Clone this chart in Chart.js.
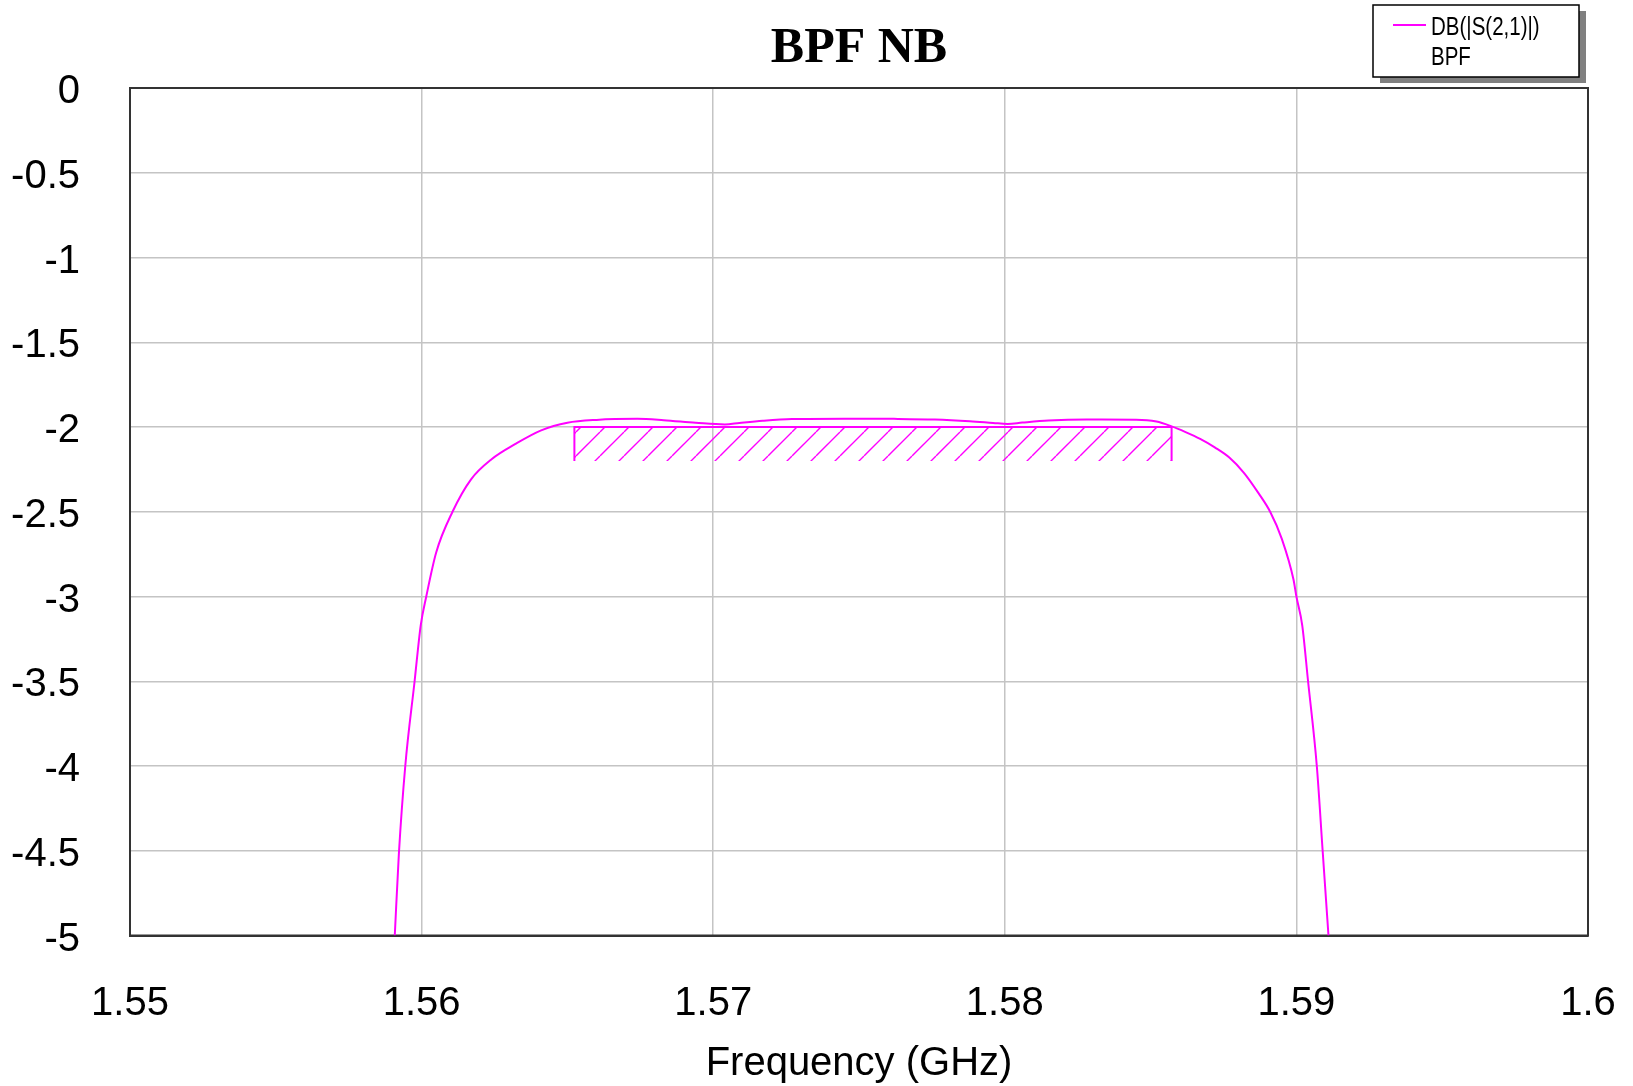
<!DOCTYPE html>
<html>
<head>
<meta charset="utf-8">
<title>BPF NB</title>
<script src="https://cdn.jsdelivr.net/npm/chart.js@4.4.1/dist/chart.umd.min.js"></script>
<style>
    html, body { margin: 0; padding: 0; background: #fff; }
    #wrap { width: 1633px; height: 1086px; }
</style>
</head>
<body>
<div id="wrap"><canvas id="bpfChart" width="1633" height="1086"></canvas></div>
<script>
// S21 sweep of the narrow-band filter (GHz, dB)
const freqGHz = [
    1.55908, 1.55922, 1.55944, 1.55976, 1.55997, 1.56016, 1.56050, 1.56106,
    1.56169, 1.56240, 1.56322, 1.56410, 1.56500, 1.5660, 1.5674, 1.5683,
    1.5694, 1.5704, 1.5709, 1.5717, 1.5727, 1.5745, 1.5762, 1.5776,
    1.5788, 1.5796, 1.5801, 1.5806, 1.5815, 1.5828, 1.5845, 1.5852,
    1.5857, 1.5862, 1.5867, 1.5872, 1.5877, 1.5882, 1.5887, 1.5891,
    1.5895, 1.5899, 1.5900, 1.5902, 1.5904, 1.5907, 1.5909, 1.5911
];
const s21dB = [
    -5.00, -4.52, -4.00, -3.50, -3.17, -3.00, -2.74, -2.50,
    -2.31, -2.19, -2.10, -2.02, -1.975, -1.958, -1.952, -1.960,
    -1.975, -1.985, -1.976, -1.963, -1.953, -1.951, -1.952, -1.956,
    -1.966, -1.976, -1.982, -1.974, -1.962, -1.956, -1.957, -1.968,
    -1.995, -2.03, -2.07, -2.12, -2.18, -2.27, -2.39, -2.50,
    -2.66, -2.90, -3.00, -3.17, -3.50, -4.00, -4.50, -5.00
];

// passband goal: S21 must stay above -2 dB between these frequencies
const goalFreq = [1.56524, 1.58572];
const goalTop = -2;
const goalBottom = -2.2;

const xTicks = [1.55, 1.56, 1.57, 1.58, 1.59, 1.6];
const yTicks = [0, -0.5, -1, -1.5, -2, -2.5, -3, -3.5, -4, -4.5, -5];

const MAGENTA = '#ff00ff';
const SANS = "'Liberation Sans', Arial, sans-serif";
const SERIF = "'Liberation Serif', 'Times New Roman', serif";

// diagonal hatch for the goal area
function makeHatch(step) {
    const c = document.createElement('canvas');
    c.width = step;
    c.height = step;
    const g = c.getContext('2d');
    g.strokeStyle = MAGENTA;
    g.lineWidth = 1.4;
    g.beginPath();
    g.moveTo(0, step); g.lineTo(step, 0);
    g.moveTo(-step, step); g.lineTo(0, 0);
    g.moveTo(step, step); g.lineTo(2 * step, 0);
    g.stroke();
    return g.createPattern(c, 'repeat');
}

// title centred over the plot area
const plotTitle = {
    id: 'plotTitle',
    afterDraw(chart) {
        const { ctx, chartArea: a } = chart;
        ctx.save();
        ctx.fillStyle = '#000';
        ctx.font = 'bold 50px ' + SERIF;
        ctx.textAlign = 'center';
        ctx.textBaseline = 'alphabetic';
        ctx.fillText('BPF NB', (a.left + a.right) / 2, 62);
        ctx.restore();
    }
};

// black frame round the plot area
const framePlugin = {
    id: 'frame',
    beforeDatasetsDraw(chart) {
        const { ctx, chartArea: a } = chart;
        ctx.save();
        ctx.strokeStyle = '#333';
        ctx.lineWidth = 2;
        ctx.strokeRect(a.left, a.top, a.right - a.left, a.bottom - a.top);
        ctx.restore();
    }
};

// legend box with drop shadow, top right
const legendBox = {
    id: 'legendBox',
    afterDraw(chart) {
        const { ctx, chartArea: a } = chart;
        const ds = chart.data.datasets[0];
        const w = 206, h = 72;
        const x = a.right - 9 - w, y = 5;
        ctx.save();
        ctx.fillStyle = '#808080';
        ctx.fillRect(x + 7, y + 6, w, h);
        ctx.fillStyle = '#fff';
        ctx.fillRect(x, y, w, h);
        ctx.strokeStyle = '#000';
        ctx.lineWidth = 1.5;
        ctx.strokeRect(x, y, w, h);
        ctx.strokeStyle = ds.borderColor;
        ctx.lineWidth = 2;
        ctx.beginPath();
        ctx.moveTo(x + 20, y + 20);
        ctx.lineTo(x + 53, y + 20);
        ctx.stroke();
        // narrow legend lettering
        ctx.fillStyle = '#000';
        ctx.font = '25px ' + SANS;
        ctx.textBaseline = 'alphabetic';
        ctx.translate(x + 58, 0);
        ctx.scale(0.82, 1);
        ctx.fillText(ds.label, 0, y + 30);
        ctx.fillText('BPF', 0, y + 60);
        ctx.restore();
    }
};

const ctx = document.getElementById('bpfChart').getContext('2d');
new Chart(ctx, {
    type: 'line',
    data: {
        datasets: [{
            label: 'DB(|S(2,1)|)',
            data: freqGHz.map((f, i) => ({ x: f, y: s21dB[i] })),
            borderColor: MAGENTA,
            borderWidth: 2,
            pointRadius: 0,
            cubicInterpolationMode: 'monotone',
            fill: false
        }, {
            label: 'BPF',
            data: [
                { x: goalFreq[0], y: goalBottom },
                { x: goalFreq[0], y: goalTop },
                { x: goalFreq[1], y: goalTop },
                { x: goalFreq[1], y: goalBottom }
            ],
            borderColor: MAGENTA,
            borderWidth: 2,
            backgroundColor: makeHatch(24),
            pointRadius: 0,
            tension: 0,
            fill: { value: goalBottom }
        }]
    },
    options: {
        responsive: false,
        animation: false,
        layout: { padding: { top: 88, right: 45 } },
        plugins: {
            legend: { display: false },
            tooltip: { enabled: false },
            title: { display: false }
        },
        scales: {
            x: {
                type: 'linear',
                min: 1.55,
                max: 1.6,
                afterBuildTicks: s => { s.ticks = xTicks.map(v => ({ value: v })); },
                afterFit: s => {
                    s.height = 150.5;
                    s.paddingLeft = 0;
                    s.paddingRight = 0;
                },
                ticks: {
                    callback: v => String(v),
                    color: '#000',
                    font: { family: SANS, size: 40 },
                    padding: 44,
                    maxRotation: 0,
                    autoSkip: false
                },
                grid: { color: '#c4c4c4', lineWidth: 1.5, drawTicks: false },
                border: { display: true, color: '#333', width: 2 },
                title: {
                    display: true,
                    text: 'Frequency (GHz)',
                    color: '#000',
                    font: { family: SANS, size: 40, lineHeight: 1.1 },
                    padding: { top: 0, bottom: 0 }
                }
            },
            y: {
                min: -5,
                max: 0,
                afterBuildTicks: s => { s.ticks = yTicks.map(v => ({ value: v })); },
                afterFit: s => {
                    s.width = 130;
                    s.paddingTop = 0;
                    s.paddingBottom = 0;
                },
                ticks: {
                    callback: v => String(v),
                    color: '#000',
                    font: { family: SANS, size: 40 },
                    padding: 50,
                    labelOffset: 4,
                    autoSkip: false
                },
                grid: { color: '#c4c4c4', lineWidth: 1.5, drawTicks: false },
                border: { display: true, color: '#333', width: 2 }
            }
        }
    },
    plugins: [framePlugin, plotTitle, legendBox]
});
</script>
</body>
</html>
